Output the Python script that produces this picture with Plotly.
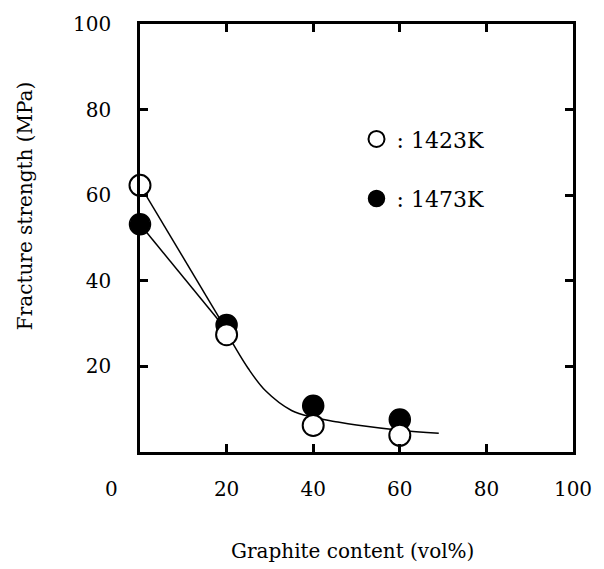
import plotly.graph_objects as go

# Data
graphite = [0, 20, 40, 60]                     # vol%
strength_1423 = [62.3, 27.4, 6.2, 3.9]         # open circles (MPa)
strength_1473 = [53.2, 29.7, 10.8, 7.6]        # filled circles (MPa)

# hand-drawn guide lines
line_1423_x = [0, 20]
line_1423_y = [62.3, 28.5]
line_1473_x = [0, 20]
line_1473_y = [53.2, 28.5]
curve_x = [20.5, 25, 29, 35, 40, 45.7, 50, 60, 69]
curve_y = [27.0, 19.5, 14.3, 9.7, 8.1, 7.0, 6.3, 5.1, 4.4]

x_ticks = [0, 20, 40, 60, 80, 100]
x_labels = ["0" + "\u00a0" * 9, "20", "40", "60", "80", "100"]
y_ticks = [20, 40, 60, 80, 100]
y_labels = ["20", "40", "60", "80", "100"]

x_title = "Graphite content (vol%)"
y_title = "Fracture strength (MPa)"

FONT = "DejaVu Serif"
fig = go.Figure()

for xs, ys in [(line_1423_x, line_1423_y), (line_1473_x, line_1473_y)]:
    fig.add_trace(go.Scatter(x=xs, y=ys, mode="lines",
                             line=dict(color="black", width=1.5),
                             showlegend=False, hoverinfo="skip"))
fig.add_trace(go.Scatter(x=curve_x, y=curve_y, mode="lines",
                         line=dict(color="black", width=1.5, shape="spline", smoothing=1.0),
                         showlegend=False, hoverinfo="skip"))

fig.add_trace(go.Scatter(x=graphite, y=strength_1473, mode="markers",
                         name=": 1473K", legendgroup="b", legendrank=2,
                         marker=dict(symbol="circle", size=21, color="black",
                                     line=dict(color="black", width=1.5)),
                         cliponaxis=False))
fig.add_trace(go.Scatter(x=graphite, y=strength_1423, mode="markers",
                         name=": 1423K", legendgroup="a", legendrank=1,
                         marker=dict(symbol="circle", size=21, color="white",
                                     line=dict(color="black", width=2)),
                         cliponaxis=False))

axis_common = dict(
    showline=True, linecolor="black", linewidth=2.5, mirror="ticks",
    ticks="inside", ticklen=8, tickwidth=2.5, tickcolor="black",
    showgrid=False, zeroline=False,
    tickfont=dict(family=FONT, size=20, color="black"),
)

fig.update_xaxes(range=[0, 100], tickmode="array", tickvals=x_ticks,
                 ticktext=x_labels, ticklabelstandoff=17, **axis_common)
fig.update_yaxes(range=[0, 100], tickmode="array", tickvals=y_ticks,
                 ticktext=y_labels, ticklabelstandoff=22, **axis_common)

fig.add_annotation(text=x_title, xref="paper", yref="paper",
                   x=0.49, y=-0.232, xanchor="center", yanchor="middle",
                   showarrow=False, font=dict(family=FONT, size=20, color="black"))
fig.add_annotation(text=y_title, xref="paper", yref="paper", textangle=-90,
                   x=-0.265, y=0.575, xanchor="center", yanchor="middle",
                   showarrow=False, font=dict(family=FONT, size=20, color="black"))

fig.update_layout(
    width=604, height=569,
    margin=dict(l=140, r=26, t=18, b=117),
    paper_bgcolor="white", plot_bgcolor="white",
    font=dict(family=FONT, color="black"),
    showlegend=True,
    legend=dict(x=0.50, y=0.78, xanchor="left", yanchor="top",
                bgcolor="rgba(0,0,0,0)", tracegroupgap=28,
                font=dict(family=FONT, size=22, color="black"),
                traceorder="grouped"),
)

fig.write_html("out.html", config={"displayModeBar": False},
               post_script="document.body.style.margin='0px';document.body.style.overflow='hidden';")
